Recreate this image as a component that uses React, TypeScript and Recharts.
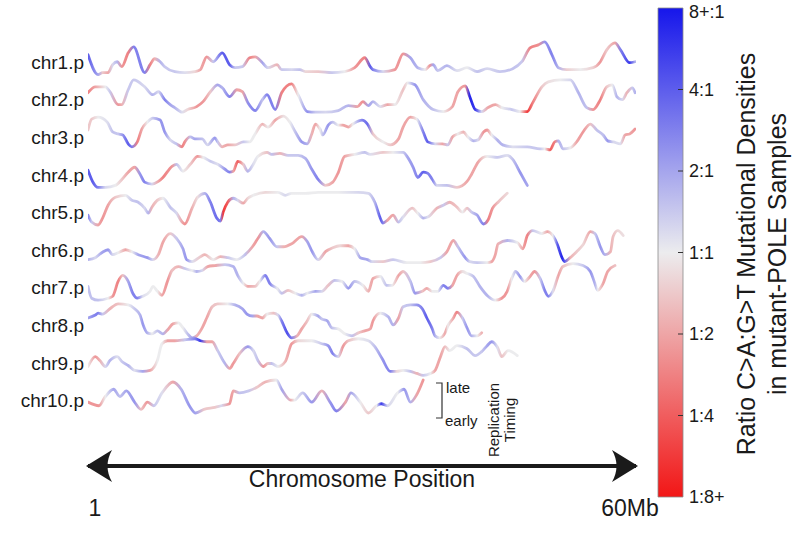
import React from 'react';
import { Bar, BarChart, ComposedChart, Line, XAxis, YAxis } from 'recharts';

// Each point: [position (Mb), replication timing (0 = early .. ~100 = late), log2 C>A:G>T ratio]
const chr1 = [
  [0, 60, 2], [1.1, 0, 1], [1.6, 6, -0.5], [2.2, 6, -1], [2.7, 30, 0.3], [3.2, 39, 0.8], [3.7, 24, -1.2],
  [4.4, 66, -1.5], [5.0, 84, 1.5], [6.2, 6, 1.5], [6.8, 30, -1.5], [7.3, 48, -0.8], [7.9, 39, 0.8], [8.4, 24, 0.5],
  [9.5, 9, 0.5], [10.6, 6, 0.2], [11.7, 9, -0.3], [12.3, 15, -1], [13.0, 54, -1.2], [13.7, 39, 0.5], [14.7, 66, 2],
  [15.5, 30, 2], [16.1, 21, 0.5], [16.9, 24, 0.5], [17.7, 51, -1.5], [18.3, 54, -1], [19.1, 36, 1], [19.7, 21, 0.3],
  [20.7, 30, -0.8], [21.2, 15, 0.5], [22.3, 15, 0.3], [23.2, 15, 0.6], [23.8, 9, -0.3], [25.2, 9, -0.5], [26.7, 6, 0.5],
  [28.1, 9, 0], [29.2, 21, -1.2], [30.3, 51, -1.5], [30.9, 24, 2], [31.2, 15, 1.5], [32.3, 9, 0.3], [33.6, 15, -1.2],
  [34.5, 63, -1.2], [35.3, 51, 1], [36.1, 21, 0.8], [36.9, 15, 0], [37.4, 27, -1.2], [37.8, 30, 1], [38.3, 12, 0.5],
  [39.3, 27, 0.8], [40.4, 12, 0.2], [41.5, 21, 0], [42.6, 9, 0.6], [43.7, 18, 0.3], [45.1, 9, 0.5], [46.5, 18, 0.6],
  [47.5, 39, 0.5], [48.4, 81, -1.5], [49.3, 90, -1.3], [50.0, 99, 1.2], [50.8, 60, 1.5], [51.5, 21, 0.8], [52.4, 15, -0.4],
  [53.9, 15, 0], [55.3, 21, -0.4], [56.1, 39, -1.2], [56.8, 75, -0.5], [57.7, 96, -1], [58.3, 75, 1.5], [59.3, 36, 2.5],
  [59.9, 39, 0.8],
];
const chr2 = [
  [0, 59, -1.5], [0.8, 77, -1], [1.9, 77, 0], [2.4, 62, 0.5], [3.3, 23, -1.2], [3.7, 23, -0.8], [4.4, 68, 0.5],
  [5.0, 98, 0.5], [6.2, 77, 0.3], [7.1, 53, 0.8], [7.7, 62, 0.3], [8.4, 38, 1.5], [9.0, 23, 1], [9.5, 14, 0.8],
  [10.3, 0, 0.2], [10.9, 8, -0.3], [11.9, 17, -1.2], [12.6, 32, -1.2], [13.4, 62, -0.5], [14.2, 83, 1], [14.7, 74, 0.8],
  [15.5, 47, 1.5], [16.3, 68, -1], [16.9, 62, -1], [17.5, 29, 1.3], [18.3, 5, 1.5], [19.1, 38, 0.6], [19.6, 53, 1.5],
  [20.5, 8, 1.5], [21.2, 59, -1.5], [22.3, 86, -1.5], [23.0, 53, 0], [24.0, 2, 1.3], [24.9, 0, 0.5], [26.0, 0, 0.3],
  [27.4, 5, 0.6], [28.5, 20, 0.8], [29.5, 17, -1], [30.1, 32, -1.3], [30.7, 20, 1], [31.2, 32, 0.8], [32.0, 17, 0.2],
  [32.8, 23, -1], [33.6, 23, 0], [34.5, 68, -0.6], [35.0, 89, 0], [35.8, 83, 1.2], [36.7, 38, 0.8], [37.8, 8, 0.6],
  [38.9, 2, 0], [39.9, 17, -1], [40.5, 62, -1], [41.3, 80, -1.2], [41.8, 47, 2.8], [42.4, 8, 2.5], [43.1, 2, 0.3],
  [43.8, 14, -1], [44.6, 23, -1], [45.3, 14, 0], [46.4, 8, 0.5], [47.3, 2, 0], [48.1, 2, -2.5], [48.7, 29, -1.5],
  [49.7, 77, -0.5], [50.4, 92, -0.2], [51.7, 98, 0], [52.8, 98, 0.3], [53.7, 59, 0.8], [54.6, 14, 0.6], [55.3, 8, -1.2],
  [56.1, 38, -1.5], [56.8, 77, -0.5], [57.4, 83, 0], [57.9, 47, 0.8], [58.5, 38, 0.3], [59.0, 59, -0.8], [59.6, 74, 0.5],
  [59.9, 59, 0.8],
];
const chr3 = [
  [0, 60, -0.5], [0.4, 93, -0.5], [1.1, 99, 0], [2.1, 84, 0.2], [2.7, 54, 0.6], [3.3, 48, 0.5], [3.8, 45, 1.2],
  [4.4, 18, 2], [4.8, 9, 1.5], [5.4, 24, -1.5], [5.9, 63, -1], [6.5, 84, 0], [7.1, 96, 0.5], [7.9, 90, 1.2],
  [8.4, 54, 1.2], [9.0, 30, 0.3], [9.7, 18, 0.6], [10.3, 9, -1.5], [10.6, 24, -1.3], [11.2, 39, 0.6], [11.7, 33, 1],
  [12.5, 33, 0.6], [13.1, 15, 0.3], [13.9, 36, 1.2], [14.2, 24, 0.5], [14.7, 9, -0.8], [15.3, 15, -1], [16.1, 15, -0.5],
  [17.0, 24, 0.5], [17.7, 24, 0], [18.3, 48, 0], [19.1, 78, -0.8], [19.7, 69, 0], [20.5, 90, -1], [21.4, 102, -0.2],
  [22.1, 84, 0], [22.7, 54, 0.6], [23.4, 24, 1.2], [24.0, 18, 0.8], [24.5, 48, -0.8], [24.9, 78, -1], [25.4, 63, 0],
  [25.7, 45, 0.6], [26.3, 75, 1.2], [26.8, 84, 0.6], [27.4, 75, 0], [27.9, 75, -1], [28.5, 69, -1], [29.0, 78, 0],
  [30.0, 90, 1.5], [30.6, 78, 1.8], [31.2, 48, -0.5], [32.3, 24, 0], [33.1, 15, -0.5], [34.0, 33, -1], [34.5, 69, -1],
  [35.3, 99, -1], [36.0, 93, 0], [36.7, 54, 1.5], [37.2, 24, 2], [38.0, 18, 0.3], [38.8, 18, -1], [39.4, 15, 0.5],
  [39.9, 39, -1], [40.5, 48, 0], [41.1, 54, -0.8], [41.6, 39, 0], [42.2, 27, 0.8], [42.7, 30, 0.3], [43.3, 54, -1.2],
  [43.7, 60, -1.2], [44.2, 45, 0], [44.8, 30, 0.8], [45.4, 15, 0.8], [46.5, 9, 0.2], [48.1, 9, 0.5], [49.5, 3, 0.5],
  [50.0, 3, 0], [50.6, 0, -2], [51.1, 24, -1.5], [51.5, 27, 0.8], [52.0, 3, 0.6], [52.8, 6, 0], [53.5, 24, -1],
  [54.2, 54, -1.2], [55.0, 78, -0.6], [55.7, 60, 0.6], [56.4, 45, 0.6], [56.9, 27, 1.2], [57.5, 24, 0.3], [58.3, 18, 0.2],
  [58.8, 45, -1], [59.3, 48, -1], [59.9, 63, -1.2],
];
const chr4 = [
  [0, 52, 2], [0.5, 18, 2], [1.1, 0, 1.5], [1.9, 0, 0.3], [3.0, 6, 0], [3.7, 24, -0.5], [4.4, 46, -1], [5.1, 61, -1],
  [5.7, 40, 1.2], [6.2, 16, 1.5], [7.0, 10, 0.3], [7.7, 18, -1], [8.2, 30, -1.5], [9.2, 64, -1.2], [9.7, 70, 0.6],
  [10.4, 49, 0], [11.2, 70, -0.5], [12.0, 94, -1.2], [12.6, 91, 0], [13.4, 79, 0.5], [14.2, 70, 0.2], [15.0, 55, 1.2],
  [15.5, 46, 1.5], [15.9, 49, -1], [16.4, 79, -2], [17.0, 70, -0.5], [17.5, 49, 0.8], [18.1, 70, 0.2], [18.6, 94, 0],
  [19.6, 106, -0.6], [20.1, 100, 0.6], [21.0, 103, -0.8], [21.9, 97, 0.5], [23.0, 97, 0.5], [23.8, 88, 0.8],
  [24.5, 55, 1.2], [25.2, 24, 1.5], [26.0, 6, -0.5], [26.8, 16, -1], [27.4, 45, -1.2], [28.1, 94, -1], [29.2, 100, 0],
  [30.3, 106, 0.6], [30.9, 100, 0.2], [32.3, 106, -0.5], [33.4, 106, 0], [34.5, 106, 0.5], [35.0, 91, 1], [35.6, 61, 1.2],
  [36.1, 30, 1.5], [36.7, 46, 2], [37.2, 43, 1.5], [37.7, 24, 1.5], [38.2, 6, 0.3], [39.3, 6, 0.6], [40.4, 0, -0.5],
  [41.5, 18, -1], [42.0, 40, -1], [42.7, 76, -1], [43.7, 94, 0], [44.8, 91, 0.5], [45.9, 97, 0.2], [46.5, 85, 0.6],
  [47.3, 46, 1.2], [48.1, 6, 1],
];
const chr5 = [
  [0, 30, 1.5], [0.4, 9, 0.5], [1.1, 0, -1], [1.6, 21, -1.2], [2.2, 60, -1], [3.0, 84, -0.5], [4.1, 90, 0],
  [4.8, 75, 0.5], [5.5, 69, 0.6], [6.2, 51, 0.3], [6.6, 36, 0.8], [7.0, 54, -0.8], [7.6, 75, -0.5], [8.2, 81, 0],
  [9.0, 54, 0.6], [9.7, 36, 0.3], [10.3, 9, -1], [10.6, 3, -1.3], [11.4, 51, -0.8], [12.0, 84, -0.2], [12.8, 96, 0.8],
  [13.4, 69, 1.5], [14.1, 21, 1.8], [14.5, 12, 1.5], [14.8, 39, -2.5], [15.3, 69, -2], [15.9, 81, 0.8], [16.4, 75, 0.3],
  [17.0, 66, -1], [17.5, 81, -0.3], [18.1, 90, 0], [19.4, 99, -0.3], [20.8, 99, 0], [21.6, 90, 0.3], [22.3, 96, 0],
  [23.8, 96, 0], [25.2, 99, 0], [27.4, 99, 0], [29.6, 99, 0.3], [30.7, 96, 0.3], [31.4, 69, 0.8], [32.0, 21, 2],
  [32.3, 6, 1.5], [32.8, 15, -1], [33.4, 30, -1], [34.0, 9, 0.6], [34.5, 24, 0.2], [35.5, 51, -0.6], [36.1, 36, 0],
  [36.7, 21, 0.8], [37.2, 24, 0.2], [38.2, 51, -0.8], [38.9, 60, 0.5], [39.6, 69, -0.8], [40.4, 54, -0.6], [41.0, 39, 0],
  [41.5, 51, -0.6], [42.0, 39, 0.5], [42.6, 30, 1], [43.3, 3, 1.5], [43.8, 15, -1.5], [44.3, 51, -1.2], [44.9, 69, -0.6],
  [45.9, 96, -0.3],
];
const chr6 = [
  [0, 9, 0.8], [0.8, 15, 0.3], [1.5, 30, 1], [2.2, 39, 1.2], [2.7, 24, 0.3], [3.3, 30, 0], [4.1, 39, -1], [4.8, 33, 0],
  [5.5, 24, 1], [6.5, 15, 1.2], [7.1, 9, 0.3], [7.7, 24, -0.8], [8.2, 61, -1], [9.0, 88, -0.5], [9.7, 73, 0.5],
  [10.4, 42, 1], [10.8, 9, 1.2], [11.4, 3, 0.2], [12.3, 18, -0.5], [12.8, 24, -0.8], [13.7, 9, 0], [14.5, 18, -0.8],
  [15.3, 15, 0.5], [16.3, 9, 0], [17.2, 24, 0.6], [18.0, 48, -1], [18.6, 73, -1.2], [19.2, 94, 0.8], [19.9, 73, 1.2],
  [20.7, 48, 0.5], [21.4, 48, -0.8], [22.3, 57, -1], [23.4, 79, -1], [24.0, 64, 1], [24.5, 36, 1.2], [25.2, 9, 0.3],
  [26.0, 33, -1], [26.8, 45, -0.5], [27.6, 51, -0.3], [28.5, 51, -1], [29.2, 42, 0], [29.8, 15, 1], [30.6, 9, 1],
  [31.1, 3, 0.3], [32.3, 3, -0.5], [33.4, 9, 0.5], [34.9, 0, 0], [36.4, 0, 0], [37.5, 3, -0.5], [38.6, 15, 0.5],
  [39.3, 33, -1], [40.0, 67, -1], [40.5, 48, 0.6], [41.3, 15, 1.2], [41.8, 3, 0.3], [42.6, 0, 0.5], [43.7, 0, 0],
  [44.2, 3, -1], [44.6, 24, -1], [44.9, 57, -0.8], [45.9, 67, 0.8], [47.0, 61, 0], [47.6, 42, -1], [48.1, 82, -1.5],
  [48.7, 97, 0.5], [49.7, 88, 0], [50.3, 94, -1], [50.9, 82, 0], [51.4, 54, 2], [51.9, 15, 2.8], [52.2, 3, 2],
  [52.8, 15, -0.8], [53.5, 33, -0.5], [54.2, 54, -0.3], [55.0, 94, -1], [55.5, 88, 0.5], [56.1, 48, 1.2], [56.6, 24, 0.8],
  [57.2, 33, -0.8], [57.5, 79, -0.6], [58.0, 97, -0.3], [58.6, 82, -0.2],
];
const chr7 = [
  [0, 42, 0.6], [0.4, 6, 0.6], [1.1, 0, 0.6], [2.2, 6, 0], [2.7, 12, -1.2], [3.3, 57, -1.5], [3.8, 75, -0.6],
  [4.4, 57, 1], [4.9, 21, 1.5], [5.4, 6, 1.5], [6.0, 12, 0.2], [6.8, 27, 0], [7.1, 42, 0], [7.6, 27, 0], [8.1, 15, -1],
  [8.7, 57, -1.2], [9.2, 90, -0.6], [9.9, 102, -0.8], [10.6, 96, 0.5], [11.4, 90, 0], [11.9, 87, 0.8], [12.5, 90, 0.3],
  [13.1, 102, -1], [13.9, 105, -1], [15.0, 108, 0.5], [15.9, 102, 0.8], [16.4, 75, 0.8], [17.0, 51, 0], [17.5, 42, -1],
  [18.3, 42, -0.6], [18.8, 57, 0], [19.4, 75, 1.5], [19.9, 51, 1.5], [20.7, 36, 0], [21.2, 21, 0.6], [21.9, 30, -0.6],
  [22.7, 21, 0], [23.4, 15, 0.8], [24.0, 21, 0], [24.9, 27, 1], [25.6, 27, 0.3], [26.3, 45, -0.6], [27.0, 60, 0.6],
  [27.8, 57, 0], [28.5, 36, 1.2], [29.2, 57, 0.6], [30.1, 45, 0], [30.7, 27, -0.8], [31.2, 66, -1], [32.0, 72, 0],
  [32.7, 45, 0.6], [33.3, 45, 0], [34.0, 75, -1], [34.5, 87, -0.6], [35.3, 57, 0.6], [35.8, 21, 1.2], [36.6, 27, -0.6],
  [37.1, 36, -1], [37.7, 27, 0], [38.3, 27, 0], [38.9, 45, 1.5], [39.4, 36, 1.5], [39.9, 45, -1], [40.4, 75, -1],
  [41.0, 87, -0.2], [41.5, 81, 0], [42.2, 72, 0.6], [42.9, 42, 0.8], [43.8, 12, 0.8], [44.6, 0, 0], [45.3, 6, -1.2],
  [45.9, 27, -1.2], [46.4, 66, 0], [46.8, 87, 0.6], [47.3, 72, 1.2], [47.8, 57, 0], [48.4, 72, -1], [48.9, 87, -1.2],
  [49.5, 66, 0.5], [50.0, 30, 1.5], [50.4, 12, 1.5], [50.9, 27, 0.2], [51.5, 75, -1], [52.0, 102, -0.6], [53.1, 111, 0],
  [54.2, 105, 0.5], [55.0, 87, 1.2], [55.5, 51, 0.8], [55.8, 30, 0], [56.4, 51, -1], [56.9, 87, -1], [57.7, 105, -0.6],
];
const chr8 = [
  [0, 60, 1], [0.8, 69, 1.5], [1.1, 75, 1.5], [1.6, 72, 0.5], [2.4, 88, -0.8], [3.3, 103, -0.6], [4.4, 100, 0],
  [5.1, 88, 0.5], [5.7, 69, 0.8], [6.0, 42, 1.2], [6.5, 15, 0.8], [7.0, 12, 0], [7.6, 21, 0.6], [8.2, 12, 0.8],
  [8.8, 27, -1], [9.3, 42, -1], [9.9, 45, 0], [10.4, 30, 0], [10.9, 12, 0.6], [11.4, 0, 1], [11.9, 6, -0.8],
  [12.5, 30, -1], [13.0, 60, -1], [13.6, 94, -0.6], [14.2, 103, -0.5], [15.3, 103, 0], [16.1, 100, 0.8], [16.9, 88, 1],
  [17.4, 72, 1.2], [18.0, 66, 1], [18.5, 66, -1], [19.1, 60, -1], [19.6, 72, 0], [20.3, 75, -0.6], [20.8, 69, 0.3],
  [21.2, 51, 1.5], [21.8, 15, 2.2], [22.3, 0, 1.5], [22.9, 6, -0.8], [23.4, 27, -1], [24.0, 51, -0.6], [24.5, 72, 0],
  [25.2, 66, 1], [25.6, 57, 0.5], [26.2, 51, 1], [26.7, 30, 0.6], [27.4, 27, 0], [28.1, 12, 0], [28.9, 6, 0.6],
  [29.6, 15, -0.5], [30.3, 21, -1], [30.9, 27, -1], [31.2, 51, -1.2], [32.0, 75, 0], [32.9, 63, 0.8], [33.4, 39, 0.8],
  [34.0, 60, -1], [34.5, 94, 0.5], [35.3, 100, 0.6], [36.0, 100, 1.2], [36.6, 88, 1.5], [37.1, 60, 2], [37.7, 27, 1.5],
  [38.0, 6, 0.8], [38.5, 0, 0], [39.1, 15, -1], [39.4, 36, 0], [40.0, 60, -1], [40.4, 78, -1.5], [41.0, 60, 0.5],
  [41.5, 30, 1.2], [42.0, 6, 0.8], [42.6, 6, 0], [43.1, 15, -0.8],
];
const chr9 = [
  [0, 27, 0], [0.8, 57, -1.2], [1.3, 45, -0.8], [1.9, 27, 0.3], [2.4, 45, 0.8], [3.2, 57, 0.2], [3.7, 42, 0.5],
  [4.4, 30, 0.8], [5.1, 15, 0.2], [6.0, 12, 1], [6.8, 15, -1], [7.6, 45, 0], [8.1, 96, 0], [8.7, 105, -1],
  [9.5, 105, -1], [10.6, 108, 0.5], [11.7, 111, 1.5], [12.3, 105, 2.5], [13.0, 102, -1], [13.6, 102, -1],
  [14.2, 75, 0.5], [15.0, 36, 0.8], [15.5, 21, -1], [15.9, 36, -1.2], [16.6, 66, -0.6], [17.5, 87, 1.2], [18.1, 75, 0.3],
  [18.6, 45, 0.6], [19.2, 27, -1.2], [19.7, 36, -0.6], [20.1, 36, 0.6], [20.8, 27, 0], [21.6, 42, -0.8], [22.3, 96, -1.2],
  [23.0, 105, -0.3], [24.5, 105, 0], [25.6, 96, 0.5], [26.3, 90, 1.2], [26.8, 66, 1.5], [27.4, 57, 0.3], [27.9, 87, -1.2],
  [28.5, 105, -0.6], [29.6, 111, 0], [30.7, 105, 0.2], [31.4, 87, 0.6], [32.2, 51, 1.2], [33.1, 12, 1.5], [33.8, 12, -0.3],
  [34.5, 15, 0], [35.3, 12, 0.6], [36.0, 6, -0.8], [36.7, 0, 0.5], [37.5, 6, 0], [38.0, 15, -1], [38.6, 57, -1],
  [39.1, 87, -0.6], [39.6, 75, 0], [40.4, 90, 0], [41.5, 81, 0.6], [42.4, 60, 0.5], [43.1, 72, 0.5], [43.7, 90, 1],
  [44.2, 102, 1.2], [44.8, 87, 0.2], [45.3, 57, -0.6], [46.0, 75, 0], [47.0, 60, 0],
];
const chr10 = [
  [0, 33, -1.2], [1.2, 22, -1.2], [1.9, 50, 0], [2.8, 72, 1], [3.5, 50, 0.6], [4.2, 67, 1], [5.1, 33, 1.2],
  [5.8, 11, -0.6], [6.5, 33, -1.2], [7.2, 22, 0.5], [8.1, 61, 0.2], [9.3, 94, -1], [10.2, 72, 0.8], [11.1, 22, 1.2],
  [11.8, 0, 1], [12.7, 11, -0.5], [13.9, 17, -0.5], [14.6, 22, 0.3], [15.5, 28, -1.2], [15.9, 67, -1], [16.6, 61, 0.6],
  [17.6, 67, 0.5], [18.5, 78, -0.5], [19.4, 94, -0.8], [20.6, 100, 0], [21.2, 72, 1], [22.2, 39, -0.8], [22.6, 39, 0],
  [23.5, 61, 0.5], [24.5, 33, 1.2], [25.6, 67, -0.8], [26.5, 33, 1.2], [27.2, 6, 1.5], [28.2, 33, -1], [28.8, 61, 1],
  [29.8, 33, 0], [30.7, 0, -0.5], [31.6, 22, 0], [32.1, 28, 2.5], [32.8, 22, 0.3], [33.9, 61, 0], [34.6, 72, 1.2],
  [35.3, 33, 0.8], [36.0, 56, -1], [36.7, 100, -1.2],
];

const chromosomes = ['chr1.p', 'chr2.p', 'chr3.p', 'chr4.p', 'chr5.p', 'chr6.p', 'chr7.p', 'chr8.p', 'chr9.p', 'chr10.p'];
const profiles = [chr1, chr2, chr3, chr4, chr5, chr6, chr7, chr8, chr9, chr10];

const ratioTicks = [-3, -2, -1, 0, 1, 2, 3];
const ratioLabels = ['1:8+', '1:4', '1:2', '1:1', '2:1', '4:1', '8+:1'];

const positionEnds = [0, 60];
const positionEndLabels = ['1', '60Mb'];

const FONT = '"Liberation Sans", Arial, Helvetica, sans-serif';
const INK = '#1a1a1a';

// layout
const ROW_PX = 37.6;
const PLOT_TOP = 37;
const AXIS_Y = 466;
const SWING = 33 / ROW_PX; // height of a 0..100 timing swing, in rows
const LABEL_SHIFT = 0.335;
const Y_DOMAIN = [10 - (AXIS_Y - PLOT_TOP) / ROW_PX, 10];

const NEUTRAL = [236, 236, 238];
const BLUE = [22, 22, 235];
const RED = [242, 22, 22];

function ratioColor(r: number) {
  const c = Math.max(-1, Math.min(1, r / 3));
  const end = c >= 0 ? BLUE : RED;
  const a = Math.abs(c);
  const mix = NEUTRAL.map((n, k) => Math.round(n + (end[k] - n) * a));
  return `rgb(${mix.join(',')})`;
}

const rowSeries = profiles.map((p, i) =>
  p.map(([pos, t]) => ({ pos, y: 9 - i + (t / 100) * SWING })),
);

const labelTicks = chromosomes.map((_, i) => 9 - i + LABEL_SHIFT);

function EndTick(props: any) {
  const { x, y, payload } = props;
  const idx = positionEnds.indexOf(payload.value);
  return (
    <text x={x + (idx === 0 ? 7 : -6)} y={y + 50} textAnchor="middle" fontSize={23} fontFamily={FONT} fill={INK}>
      {positionEndLabels[idx]}
    </text>
  );
}

function RatioTick(props: any) {
  const { x, y, payload } = props;
  const idx = ratioTicks.indexOf(payload.value);
  const inner = idx > 0 && idx < ratioTicks.length - 1;
  const top = idx === ratioTicks.length - 1;
  return (
    <g>
      {inner && <line x1={x - 11} x2={x - 6} y1={y} y2={y} stroke="#333" strokeWidth={1} />}
      <text x={x} y={y + (top ? 4 : 0)} dy="0.35em" textAnchor="start" fontSize={18} fontFamily={FONT} fill={INK}>
        {ratioLabels[idx]}
      </text>
    </g>
  );
}

export default function App() {
  return (
    <div style={{ position: 'absolute', left: 0, top: 0, width: 800, height: 533, background: '#fff' }}>
      <svg width={0} height={0} style={{ position: 'absolute' }}>
        <defs>
          {profiles.map((p, i) => {
            const last = p[p.length - 1][0];
            return (
              <linearGradient key={i} id={`rowGrad${i}`} x1="0" y1="0" x2="1" y2="0">
                {p.map(([pos, , r], k) => (
                  <stop key={k} offset={pos / last} stopColor={ratioColor(r)} />
                ))}
              </linearGradient>
            );
          })}
          <linearGradient id="ratioBar" x1="0" y1="0" x2="0" y2="1">
            {[...ratioTicks].reverse().map((r, k) => (
              <stop key={k} offset={k / (ratioTicks.length - 1)} stopColor={ratioColor(r)} />
            ))}
          </linearGradient>
          <marker
            id="arrowHead"
            viewBox="0 0 26 32"
            refX={24}
            refY={16}
            markerWidth={26}
            markerHeight={32}
            markerUnits="userSpaceOnUse"
            orient="auto-start-reverse"
          >
            <path d="M26,16 L0,0 Q9,16 0,32 Z" fill={INK} />
          </marker>
        </defs>
      </svg>

      <div style={{ position: 'absolute', left: 0, top: 0 }}>
        <ComposedChart width={800} height={533} margin={{ top: PLOT_TOP, right: 164, bottom: 0, left: 0 }}>
          <XAxis
            dataKey="pos"
            type="number"
            domain={[0, 60]}
            ticks={positionEnds}
            interval={0}
            height={533 - AXIS_Y}
            tickLine={false}
            tickSize={0}
            tickMargin={0}
            axisLine={{ stroke: INK, strokeWidth: 4, markerStart: 'url(#arrowHead)', markerEnd: 'url(#arrowHead)' }}
            tick={<EndTick />}
            allowDataOverflow
            label={{ value: 'Chromosome Position', position: 'insideTop', offset: 5, fontSize: 23, fill: INK, fontFamily: FONT }}
          />
          <YAxis
            type="number"
            domain={Y_DOMAIN}
            allowDataOverflow
            ticks={labelTicks}
            interval={0}
            width={88}
            axisLine={false}
            tickLine={false}
            tickSize={0}
            tickMargin={4}
            tick={{ fontSize: 19, fill: INK, fontFamily: FONT }}
            tickFormatter={(v: number) => chromosomes[Math.round(9 + LABEL_SHIFT - v)]}
          />
          {rowSeries.map((data, i) => (
            <Line
              key={chromosomes[i]}
              data={data}
              dataKey="y"
              type="monotone"
              stroke={`url(#rowGrad${i})`}
              strokeWidth={2.8}
              strokeLinecap="round"
              dot={false}
              activeDot={false}
              isAnimationActive={false}
            />
          ))}
        </ComposedChart>
      </div>

      <div style={{ position: 'absolute', left: 0, top: 0 }}>
        <BarChart
          width={800}
          height={533}
          data={[{ key: 'ratio', span: [ratioTicks[0], ratioTicks[ratioTicks.length - 1]] }]}
          margin={{ top: 8, right: 57, bottom: 36, left: 658 }}
          barCategoryGap={0}
        >
          <XAxis dataKey="key" hide />
          <YAxis
            orientation="right"
            type="number"
            domain={[ratioTicks[0], ratioTicks[ratioTicks.length - 1]]}
            ticks={ratioTicks}
            interval={0}
            width={60}
            axisLine={false}
            tickLine={false}
            tickSize={0}
            tickMargin={6}
            tick={<RatioTick />}
          />
          <Bar dataKey="span" fill="url(#ratioBar)" stroke="#8a8a8a" strokeWidth={0.8} isAnimationActive={false} />
        </BarChart>
      </div>

      <svg width={800} height={533} style={{ position: 'absolute', left: 0, top: 0, pointerEvents: 'none' }}>
        <path d="M436,383 H442 V418 H436" fill="none" stroke="#333" strokeWidth={1.2} />
        <text x={446} y={388} dy="0.35em" fontSize={15} fontFamily={FONT} fill={INK}>late</text>
        <text x={445} y={421} dy="0.35em" fontSize={15} fontFamily={FONT} fill={INK}>early</text>
        <text transform="translate(494,420) rotate(-90)" textAnchor="middle" dy="0.35em" fontSize={15} fontFamily={FONT} fill={INK}>
          Replication
        </text>
        <text transform="translate(510,420) rotate(-90)" textAnchor="middle" dy="0.35em" fontSize={15} fontFamily={FONT} fill={INK}>
          Timing
        </text>
        <text transform="translate(746,254) rotate(-90)" textAnchor="middle" dy="0.35em" fontSize={25} fontFamily={FONT} fill={INK}>
          Ratio C&gt;A:G&gt;T Mutational Densities
        </text>
        <text transform="translate(777,254) rotate(-90)" textAnchor="middle" dy="0.35em" fontSize={25} fontFamily={FONT} fill={INK}>
          in mutant-POLE Samples
        </text>
      </svg>
    </div>
  );
}
